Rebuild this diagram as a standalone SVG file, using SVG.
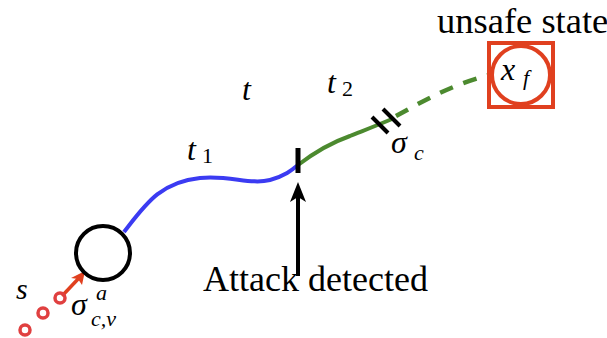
<svg xmlns="http://www.w3.org/2000/svg" width="607" height="338" viewBox="0 0 607 338">
<defs>
<style>
.txt{font-family:'Liberation Serif','DejaVu Serif',serif;fill:#000}
.m{font-family:'Liberation Serif','DejaVu Serif',serif;font-style:italic;fill:#000}
.red{stroke:#e0401f;fill:none}
</style>
</defs>
<rect width="607" height="338" fill="#fff"/>
<g id="connectors" fill="none" stroke-linecap="butt">
  <path id="traj-t1" d="M124,232 C145,205 160,182 200,178 C230,175 250,185 270,180 C285,176 292,170 298,165" stroke="#3b3bf2" stroke-width="4"/>
  <path id="traj-t2" d="M298,165 C315,152 330,143 350,136 C365,130 378,125 392,119" stroke="#4c8a2f" stroke-width="4"/>
  <path id="traj-dashed" d="M396,116 C420,103 450,85 489,75" stroke="#4c8a2f" stroke-width="4.5" stroke-dasharray="14,11"/>
  <line x1="298" y1="148" x2="298" y2="173" stroke="#000" stroke-width="5"/>
  <line x1="372" y1="117" x2="388" y2="133" stroke="#000" stroke-width="4"/>
  <line x1="383" y1="109" x2="400" y2="126" stroke="#000" stroke-width="4"/>
  <line x1="298" y1="276" x2="298" y2="194" stroke="#000" stroke-width="4"/>
  <path d="M298,182 L306,202 L298,197 L290,202 Z" fill="#000"/>
  <line x1="62" y1="296" x2="79" y2="278" stroke="#e0401f" stroke-width="3.5"/>
  <path d="M85,271 L82,285 L78,279 L71,278 Z" fill="#e0401f"/>
</g>
<g id="start-node">
  <circle cx="103" cy="253" r="27" fill="none" stroke="#000" stroke-width="4"/>
</g>
<g id="attack-dots">
  <circle cx="25" cy="330" r="5" fill="none" stroke="#e04040" stroke-width="3.5"/>
  <circle cx="43" cy="313" r="5" fill="none" stroke="#e04040" stroke-width="3.5"/>
  <circle cx="60" cy="298" r="5" fill="none" stroke="#e04040" stroke-width="3.5"/>
</g>
<g id="unsafe-node">
  <rect x="489" y="43" width="64" height="64" class="red" stroke-width="4"/>
  <circle cx="521" cy="75" r="29" class="red" stroke-width="4"/>
  <text x="501" y="80" class="m" font-size="32">x</text>
  <text x="523" y="85" class="m" font-size="22">f</text>
  <text x="437" y="33" class="txt" font-size="36.5">unsafe state</text>
</g>
<g id="labels">
  <text x="203" y="291" class="txt" font-size="36">Attack detected</text>
  <text x="16" y="299" class="m" font-size="30">s</text>
  <text x="71" y="315" class="m" font-size="32">σ</text>
  <text x="96" y="300" class="m" font-size="22">a</text>
  <text x="91" y="326" class="m" font-size="22">c,v</text>
  <text x="187" y="160" class="m" font-size="32">t</text>
  <text x="202" y="163" class="txt" font-size="22">1</text>
  <text x="242" y="100" class="m" font-size="32">t</text>
  <text x="327" y="93" class="m" font-size="32">t</text>
  <text x="342" y="96" class="txt" font-size="22">2</text>
  <text x="391" y="153" class="m" font-size="32">σ</text>
  <text x="414" y="160" class="m" font-size="22">c</text>
</g>
</svg>
